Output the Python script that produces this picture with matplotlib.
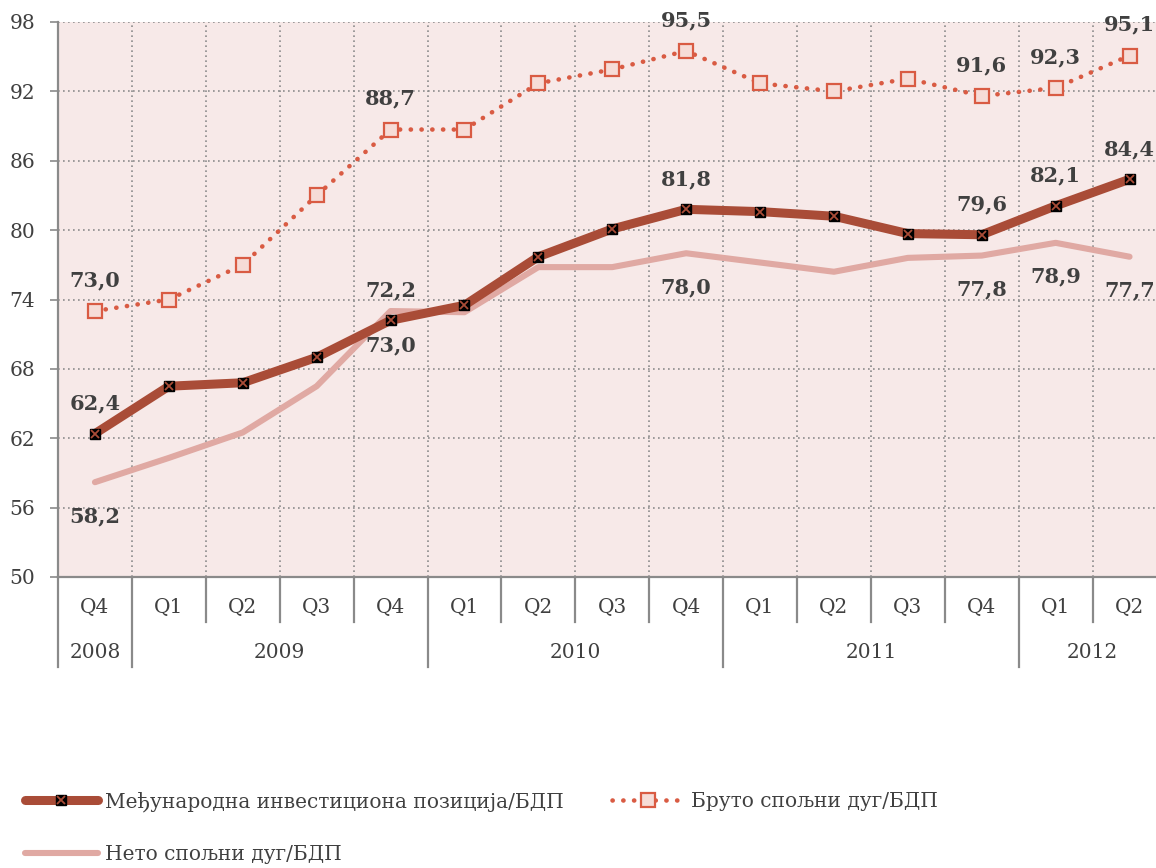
import numpy as np
import matplotlib
matplotlib.use("Agg")
import matplotlib.pyplot as plt
from matplotlib.lines import Line2D
import matplotlib.transforms as mtransforms

plt.rcParams['font.family'] = ['DejaVu Serif']

quarters = ["Q4", "Q1", "Q2", "Q3", "Q4", "Q1", "Q2", "Q3", "Q4",
            "Q1", "Q2", "Q3", "Q4", "Q1", "Q2"]
years = ["2008", "2009", "2010", "2011", "2012"]
year_spans = [(0, 0), (1, 4), (5, 8), (9, 12), (13, 14)]

iip = [62.4, 66.5, 66.8, 69.0, 72.2, 73.5, 77.7, 80.1, 81.8,
       81.6, 81.2, 79.7, 79.6, 82.1, 84.4]
gross = [73.0, 74.0, 77.0, 83.0, 88.7, 88.7, 92.7, 93.9, 95.5,
         92.7, 92.0, 93.1, 91.6, 92.3, 95.1]
net = [58.2, 60.3, 62.5, 66.5, 73.0, 72.9, 76.8, 76.8, 78.0,
       77.2, 76.4, 77.6, 77.8, 78.9, 77.7]
label_idx = [0, 4, 8, 12, 13, 14]

names = ["Међународна инвестициона позиција/БДП",
         "Бруто спољни дуг/БДП",
         "Нето спољни дуг/БДП"]

c_iip = "#A94C37"
c_gross = "#D95B43"
c_net = "#E0A9A3"
c_bg = "#F7E9E8"
c_text = "#404040"
c_grid = "#8C8C8C"

W, H = 1156, 868
fig = plt.figure(figsize=(W / 100, H / 100), dpi=100)
ax = fig.add_axes([58 / W, 1 - 577 / H, 1108.5 / W, 555 / H])
ax.set_facecolor(c_bg)

x = np.arange(len(quarters))
ax.set_xlim(-0.5, len(quarters) - 0.5)
ax.set_ylim(50, 98)
ax.set_yticks(np.arange(50, 99, 6))

# grid
ax.set_xticks([])
ax.set_xticks(np.arange(0.5, len(quarters) - 0.5, 1), minor=True)
ax.tick_params(axis='x', which='both', length=0, labelbottom=False)
ax.grid(axis='y', which='major', color=c_grid, linestyle=(0, (1, 2)), linewidth=1.2)
ax.grid(axis='x', which='minor', color=c_grid, linestyle=(0, (1, 2)), linewidth=1.2)
ax.set_axisbelow(True)

for s in ['top', 'right']:
    ax.spines[s].set_visible(False)
ax.spines['left'].set_color('#8A8A8A')
ax.spines['left'].set_linewidth(1.6)
ax.spines['bottom'].set_color('#8A8A8A')
ax.spines['bottom'].set_linewidth(1.6)
ax.tick_params(axis='y', length=5.8, width=1.2, color='#8A8A8A', pad=10.5,
               labelsize=14.5, labelcolor=c_text)

gross_ls = (0, (0.05, 2.3))

# series
l_net, = ax.plot(x, net, color=c_net, lw=4.4, solid_capstyle='round', zorder=3)
l_iip, = ax.plot(x, iip, color=c_iip, lw=6.5, solid_capstyle='round',
                 marker='s', ms=6.5, mfc='black', mec='black', zorder=4)
l_iipx, = ax.plot(x, iip, ls='none', marker='x', ms=6, mec=c_iip, mew=1.3, zorder=5)
l_gross, = ax.plot(x, gross, color=c_gross, lw=3.3, linestyle=gross_ls,
                   dash_capstyle='round', marker='s', ms=10.5, mfc='#F6DCD7',
                   mec=c_gross, mew=1.6, zorder=4)

def fmt(v):
    return f"{v:.1f}".replace('.', ',')

lab_kw = dict(textcoords='offset pixels', ha='center', va='center',
              fontsize=15, fontweight='bold', color=c_text, zorder=6,
              annotation_clip=False)
for i in label_idx:
    ax.annotate(fmt(gross[i]), (x[i], gross[i]), xytext=(0, 31), **lab_kw)
    ax.annotate(fmt(iip[i]), (x[i], iip[i]), xytext=(0, 30), **lab_kw)
    ax.annotate(fmt(net[i]), (x[i], net[i]), xytext=(0, -34), **lab_kw)

# hierarchical category axis
trans = mtransforms.blended_transform_factory(ax.transData, ax.transAxes)
px = 1 / 555
for i, q in enumerate(quarters):
    ax.text(i, -30 * px, q, transform=trans, ha='center', va='center',
            fontsize=14.5, color=c_text, clip_on=False)
year_bounds = [s - 0.5 for s, e in year_spans]
for b in np.arange(-0.5, len(quarters) - 0.5, 1):
    depth = 90 if b in year_bounds else 45
    ax.add_line(Line2D([b, b], [0, -depth * px], transform=trans, color='#8A8A8A',
                       lw=1.6, clip_on=False))
for yname, (s, e) in zip(years, year_spans):
    ax.text((s + e) / 2, -76 * px, yname, transform=trans, ha='center', va='center',
            fontsize=14.5, color=c_text, clip_on=False)

# legend
h_iip = (Line2D([], [], color=c_iip, lw=6.5, solid_capstyle='round',
                marker='s', ms=6.5, mfc='black', mec='black'),
         Line2D([], [], ls='none', marker='x', ms=6, mec=c_iip, mew=1.3))
h_net = Line2D([], [], color=c_net, lw=4.4, solid_capstyle='round')
h_gross = Line2D([], [], color=c_gross, lw=3.3, linestyle=gross_ls,
                 dash_capstyle='round', marker='s', ms=10.5, mfc='#F6DCD7',
                 mec=c_gross, mew=1.6)
leg = fig.legend([h_iip, h_net, h_gross], [names[0], names[2], names[1]],
                 ncol=2, loc='upper left', bbox_to_anchor=(25 / W, 1 - 791 / H),
                 frameon=False, fontsize=14.5, handlelength=3.6, handletextpad=0.35,
                 columnspacing=2.4, labelspacing=1.65, borderpad=0, borderaxespad=0,
                 numpoints=1)
for t in leg.get_texts():
    t.set_color(c_text)

fig.savefig("out.png", dpi=100)
